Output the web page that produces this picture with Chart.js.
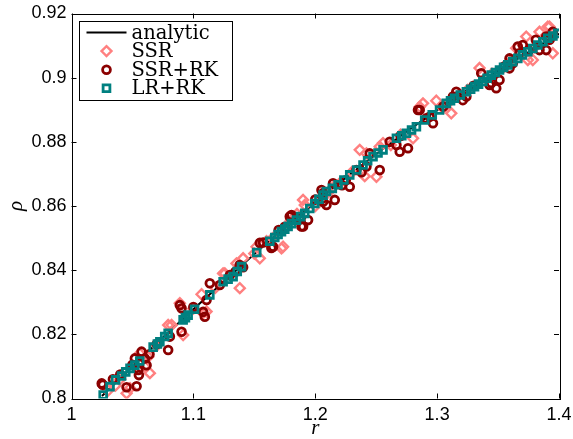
<!DOCTYPE html>
<html>
<head>
<meta charset="utf-8">
<script src="https://cdn.jsdelivr.net/npm/chart.js@4.4.1/dist/chart.umd.min.js"></script>
<style>
  html, body { margin: 0; padding: 0; background: #fff; }
  #wrap { width: 573px; height: 439px; position: relative; }
</style>
</head>
<body>
<div id="wrap"><canvas id="rho-chart"></canvas></div>
<script>
"use strict";

// analytic curve
var analyticR = [1.025, 1.05, 1.075, 1.1, 1.125, 1.15, 1.175, 1.2, 1.225, 1.25, 1.275, 1.3, 1.325, 1.35, 1.375, 1.4];
var analyticRho = [0.8008, 0.8100, 0.8190, 0.8278, 0.8365, 0.8450, 0.8532, 0.8611, 0.8688, 0.8762, 0.8832, 0.8899, 0.8962, 0.9022, 0.9080, 0.9137];

// SSR (pink diamonds)
var ssrR = [1.030, 1.036, 1.040, 1.0452, 1.048, 1.056, 1.060, 1.063, 1.0643, 1.070, 1.0793, 1.0821, 1.0889, 1.0916, 1.100,
    1.1067, 1.108, 1.1108, 1.118, 1.1244, 1.1258, 1.1354, 1.1381, 1.1408, 1.150, 1.1518, 1.1545, 1.160, 1.165, 1.1723,
    1.1736, 1.180, 1.185, 1.190, 1.1914, 1.200, 1.210, 1.215, 1.220, 1.230, 1.2365, 1.2406, 1.242, 1.2502, 1.2529, 1.2556,
    1.262, 1.270, 1.2802, 1.2857, 1.2884, 1.2993, 1.305, 1.310, 1.3116, 1.318, 1.325, 1.3348, 1.340, 1.345, 1.355, 1.360,
    1.3649, 1.3731, 1.3744, 1.3785, 1.380, 1.384, 1.3908, 1.3922, 1.3949, 1.395];
var ssrRho = [0.8025, 0.8040, 0.8060, 0.8016, 0.8032, 0.8140, 0.8100, 0.8130, 0.8079, 0.8165, 0.8229, 0.8229, 0.8297, 0.8198, 0.8280,
    0.8325, 0.8266, 0.8271, 0.8345, 0.8390, 0.8390, 0.8421, 0.8344, 0.8437, 0.8452, 0.8473, 0.8437, 0.8490, 0.8500, 0.8468,
    0.8473, 0.8555, 0.8575, 0.8619, 0.8603, 0.8600, 0.8640, 0.8660, 0.8670, 0.8705, 0.8775, 0.8693, 0.8764, 0.8691, 0.8785, 0.8796,
    0.8790, 0.8822, 0.8811, 0.8909, 0.8920, 0.8928, 0.8905, 0.8925, 0.8889, 0.8948, 0.8962, 0.9030, 0.9000, 0.9012, 0.9034, 0.9050,
    0.9092, 0.9128, 0.9055, 0.9055, 0.9095, 0.9143, 0.9159, 0.9159, 0.9076, 0.9128];

// SSR+RK (dark red circles)
var ssrRkR = [1.0248, 1.0256, 1.034, 1.040, 1.0452, 1.050, 1.052, 1.0534, 1.0548, 1.0553, 1.0575, 1.0602, 1.0616, 1.064,
    1.070, 1.0793, 1.0807, 1.0889, 1.0903, 1.0903, 1.100, 1.108, 1.1094, 1.1108, 1.1135, 1.1217, 1.130, 1.1345, 1.138,
    1.1408, 1.1545, 1.1572, 1.164, 1.1654, 1.170, 1.175, 1.1791, 1.1805, 1.1873, 1.1887, 1.190, 1.1941, 1.200, 1.2051,
    1.2064, 1.2064, 1.2092, 1.2146, 1.216, 1.222, 1.225, 1.2283, 1.2338, 1.238, 1.242, 1.2447, 1.2529, 1.2611, 1.2666,
    1.2693, 1.270, 1.2761, 1.2843, 1.2857, 1.2911, 1.2939, 1.2966, 1.305, 1.313, 1.3157, 1.3211, 1.324, 1.330, 1.3362,
    1.343, 1.3444, 1.3485, 1.3512, 1.355, 1.3594, 1.3594, 1.3621, 1.3662, 1.3676, 1.3703, 1.375, 1.381, 1.384, 1.3895,
    1.3895, 1.3922, 1.3949];
var ssrRkRho = [0.8047, 0.8043, 0.8060, 0.8075, 0.8035, 0.8105, 0.8125, 0.8038, 0.8089, 0.8073, 0.8146, 0.8125, 0.8104, 0.8138,
    0.8170, 0.8151, 0.8193, 0.8291, 0.8281, 0.8208, 0.8285, 0.8270, 0.8255, 0.8307, 0.8359, 0.8354, 0.8385, 0.8395, 0.8416,
    0.8409, 0.8485, 0.8486, 0.8469, 0.8473, 0.8525, 0.8535, 0.8567, 0.8572, 0.8562, 0.8536, 0.8536, 0.8556, 0.8620, 0.8650,
    0.8640, 0.8613, 0.8603, 0.8671, 0.8619, 0.8665, 0.8680, 0.8660, 0.8712, 0.8705, 0.8723, 0.8764, 0.8712, 0.8800, 0.8790,
    0.8769, 0.8818, 0.8780, 0.8899, 0.8899, 0.8873, 0.8878, 0.8858, 0.8910, 0.8941, 0.8956, 0.8930, 0.8941, 0.8975, 0.9014,
    0.8977, 0.8983, 0.8967, 0.8993, 0.9035, 0.9060, 0.9029, 0.9045, 0.9097, 0.9076, 0.9102, 0.9085, 0.9118, 0.9086, 0.9128,
    0.9086, 0.9118, 0.9143];

// LR+RK (teal squares)
var lrRkR = [1.026, 1.0316, 1.0362, 1.0411, 1.0445, 1.048, 1.052, 1.056, 1.067, 1.0705, 1.0725, 1.0765, 1.0793, 1.0916,
    1.0935, 1.0957, 1.101, 1.1135, 1.1244, 1.1285, 1.1326, 1.136, 1.1395, 1.152, 1.1627, 1.1668, 1.1695, 1.1723, 1.175,
    1.1777, 1.1805, 1.1846, 1.188, 1.1914, 1.1955, 1.1996, 1.203, 1.2064, 1.2092, 1.214, 1.2187, 1.2235, 1.2283, 1.234,
    1.2392, 1.243, 1.2474, 1.2515, 1.2556, 1.2666, 1.271, 1.2748, 1.279, 1.283, 1.2898, 1.296, 1.302, 1.3075, 1.311,
    1.3143, 1.319, 1.324, 1.3275, 1.3307, 1.334, 1.3375, 1.341, 1.3444, 1.3478, 1.3512, 1.3545, 1.358, 1.362, 1.3662,
    1.370, 1.3744, 1.3785, 1.3826, 1.3868, 1.3908, 1.395, 1.399];
var lrRkRho = [0.8011, 0.8037, 0.8058, 0.8070, 0.8083, 0.8094, 0.8104, 0.8117, 0.8160, 0.8170, 0.8177, 0.8193, 0.8203, 0.8245,
    0.8252, 0.8260, 0.8278, 0.8323, 0.8364, 0.8372, 0.8380, 0.8396, 0.8411, 0.8455, 0.8490, 0.8502, 0.8511, 0.8520, 0.8528,
    0.8536, 0.8545, 0.8556, 0.8567, 0.8577, 0.8592, 0.8608, 0.8621, 0.8634, 0.8645, 0.8655, 0.8666, 0.8681, 0.8697, 0.8712,
    0.8728, 0.8741, 0.8754, 0.8765, 0.8775, 0.8811, 0.8819, 0.8827, 0.8837, 0.8847, 0.8868, 0.8884, 0.8899, 0.8920, 0.8928,
    0.8936, 0.8946, 0.8956, 0.8964, 0.8972, 0.8980, 0.8988, 0.8998, 0.9008, 0.9016, 0.9024, 0.9032, 0.9040, 0.9050, 0.9060,
    0.9071, 0.9081, 0.9091, 0.9102, 0.9112, 0.9123, 0.9130, 0.9138];

var xTicks = [1, 1.1, 1.2, 1.3, 1.4];
var xTickLabels = ["1", "1.1", "1.2", "1.3", "1.4"];
var yTicks = [0.8, 0.82, 0.84, 0.86, 0.88, 0.9, 0.92];
var yTickLabels = ["0.8", "0.82", "0.84", "0.86", "0.88", "0.9", "0.92"];

function pts(xs, ys) {
    return xs.map(function (x, i) { return { x: x, y: ys[i] }; });
}

var tickFont = { family: "'Liberation Sans', Arial, sans-serif", size: 18 };
var titleFont = { family: "'Liberation Serif', serif", size: 21, style: "italic", lineHeight: 1 };

// matlab style box with inward ticks
var boxAxes = {
    id: "boxAxes",
    afterDatasetsDraw: function (chart) {
        var ctx = chart.ctx, a = chart.chartArea;
        var xs = chart.scales.x, ys = chart.scales.y;
        var len = 5;
        ctx.save();
        ctx.strokeStyle = "#000";
        ctx.lineWidth = 1;
        ctx.beginPath();
        xTicks.forEach(function (v) {
            var px = Math.round(xs.getPixelForValue(v)) + 0.5;
            ctx.moveTo(px, a.bottom); ctx.lineTo(px, a.bottom - len);
            ctx.moveTo(px, a.top); ctx.lineTo(px, a.top + len);
        });
        yTicks.forEach(function (v) {
            var py = Math.round(ys.getPixelForValue(v)) + 0.5;
            ctx.moveTo(a.left, py); ctx.lineTo(a.left + len, py);
            ctx.moveTo(a.right, py); ctx.lineTo(a.right - len, py);
        });
        ctx.stroke();
        ctx.strokeRect(Math.round(a.left) + 0.5, Math.round(a.top) + 0.5,
            Math.round(a.right - a.left), Math.round(a.bottom - a.top));
        ctx.restore();
    }
};

// boxed legend in the upper left corner
var boxLegend = {
    id: "boxLegend",
    afterDraw: function (chart) {
        var ctx = chart.ctx, a = chart.chartArea;
        var x0 = a.left + 7.5, y0 = a.top + 7, w = 153, h = 79;
        var rowH = 18.6;
        ctx.save();
        ctx.fillStyle = "#fff";
        ctx.fillRect(x0, y0, w, h);
        ctx.strokeStyle = "#000";
        ctx.lineWidth = 1;
        ctx.strokeRect(Math.round(x0) + 0.5, Math.round(y0) + 0.5, w, h);
        ctx.font = "19.5px 'DejaVu Serif', serif";
        ctx.textBaseline = "middle";
        chart.data.datasets.forEach(function (ds, i) {
            var cy = y0 + 12 + i * rowH;
            if (ds.showLine) {
                ctx.strokeStyle = ds.borderColor;
                ctx.lineWidth = ds.borderWidth;
                ctx.beginPath();
                ctx.moveTo(x0 + 7.5, cy);
                ctx.lineTo(x0 + 47.5, cy);
                ctx.stroke();
            } else {
                ctx.strokeStyle = ds.borderColor;
                ctx.fillStyle = "rgba(0,0,0,0)";
                ctx.lineWidth = ds.borderWidth;
                Chart.helpers.drawPoint(ctx, {
                    pointStyle: ds.pointStyle, radius: ds.pointRadius, rotation: 0, borderWidth: ds.borderWidth
                }, x0 + 27.5, cy);
            }
            ctx.fillStyle = "#000";
            ctx.fillText(ds.label, x0 + 52.5, cy + 1);
        });
        ctx.restore();
    }
};

var ctx = document.getElementById("rho-chart").getContext("2d");

new Chart(ctx, {
    type: "scatter",
    data: {
        datasets: [
            {
                label: "analytic",
                data: pts(analyticR, analyticRho),
                showLine: true,
                borderColor: "#000",
                borderWidth: 2,
                pointRadius: 0,
                order: 4,
            },
            {
                label: "SSR",
                data: pts(ssrR, ssrRho),
                pointStyle: "rectRot",
                pointRadius: 5,
                borderColor: "#ff8080",
                backgroundColor: "rgba(0,0,0,0)",
                borderWidth: 2.4,
                order: 3,
            },
            {
                label: "SSR+RK",
                data: pts(ssrRkR, ssrRkRho),
                pointStyle: "circle",
                pointRadius: 3.9,
                borderColor: "#8b0000",
                backgroundColor: "rgba(0,0,0,0)",
                borderWidth: 2.8,
                order: 2,
            },
            {
                label: "LR+RK",
                data: pts(lrRkR, lrRkRho),
                pointStyle: "rect",
                pointRadius: 4.8,
                borderColor: "#008080",
                backgroundColor: "rgba(0,0,0,0)",
                borderWidth: 2.8,
                order: 1,
            },
        ],
    },
    options: {
        responsive: true,
        maintainAspectRatio: false,
        animation: false,
        layout: { padding: { left: 0, right: 14, top: 13.5, bottom: 0 } },
        scales: {
            x: {
                type: "linear",
                min: 1,
                max: 1.4,
                afterBuildTicks: function (s) {
                    s.ticks = xTicks.map(function (v) { return { value: v }; });
                },
                afterFit: function (s) {
                    s.height = 40.5;
                    s.paddingLeft = 0;
                    s.paddingRight = 0;
                },
                grid: { display: false, drawTicks: false },
                border: { display: false },
                ticks: {
                    color: "#000",
                    font: tickFont,
                    padding: 6,
                    maxRotation: 0,
                    autoSkip: false,
                    callback: function (v, i) { return xTickLabels[i]; },
                },
                title: { display: true, text: "r", color: "#000", font: titleFont, padding: 0 },
            },
            y: {
                type: "linear",
                min: 0.8,
                max: 0.92,
                afterBuildTicks: function (s) {
                    s.ticks = yTicks.map(function (v) { return { value: v }; });
                },
                afterFit: function (s) {
                    s.width = 71.5;
                    s.paddingTop = 0;
                    s.paddingBottom = 0;
                },
                grid: { display: false, drawTicks: false },
                border: { display: false },
                ticks: {
                    color: "#000",
                    font: tickFont,
                    padding: 5,
                    autoSkip: false,
                    callback: function (v, i) { return yTickLabels[i]; },
                },
                title: { display: true, text: "ρ", color: "#000", font: titleFont, padding: 6 },
            },
        },
        plugins: {
            legend: { display: false },
            tooltip: { enabled: false },
        },
    },
    plugins: [boxAxes, boxLegend],
});
</script>
</body>
</html>
